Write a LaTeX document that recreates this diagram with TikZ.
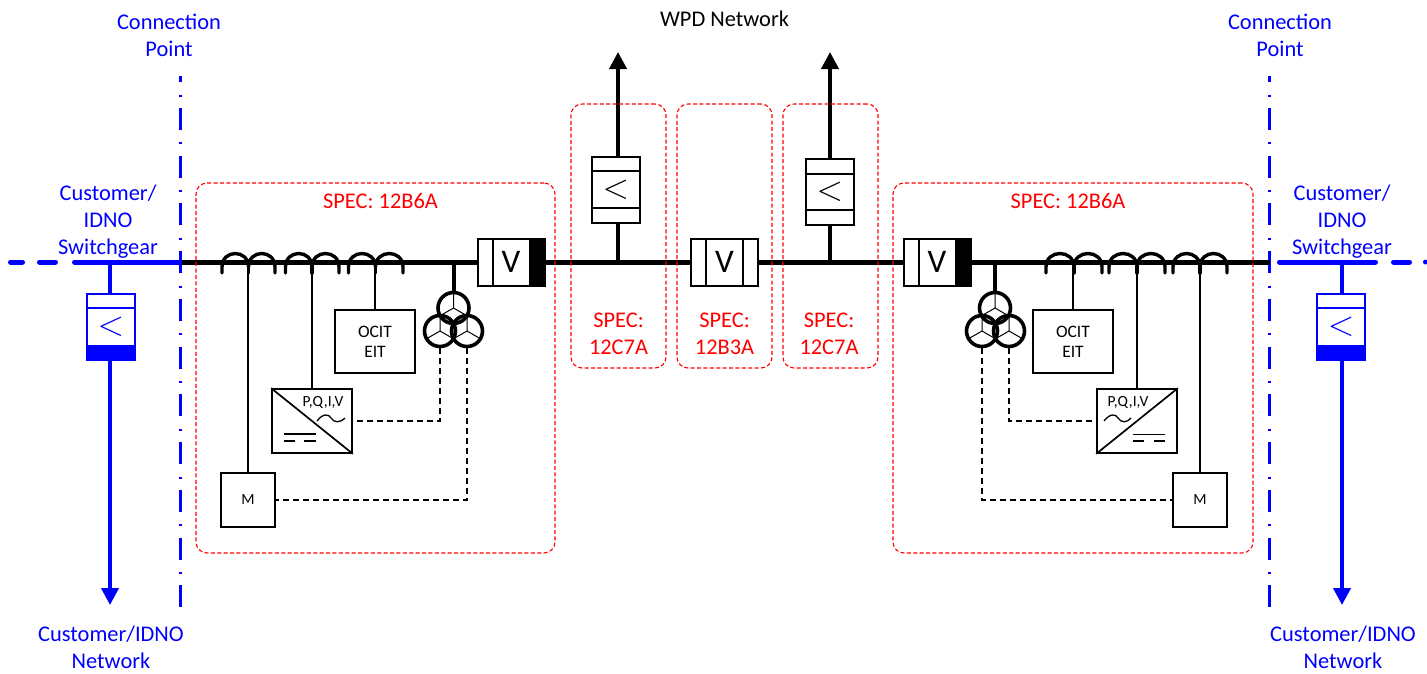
\documentclass[tikz,border=0pt]{standalone}
\usepackage{fontspec}
\setmainfont{Carlito}
\usetikzlibrary{arrows.meta}
\definecolor{cblue}{RGB}{0,0,255}
\definecolor{cred}{RGB}{255,0,0}
\tikzset{
  x=1pt,y=-1pt,
  bus/.style={line width=5pt,black},
  busblue/.style={line width=5pt,cblue},
  feeder/.style={line width=4pt},
  wire/.style={line width=1.7pt},
  ctrl/.style={line width=1.4pt,dash pattern=on 6pt off 4pt},
  coilarc/.style={line width=3.4pt,line cap=round},
  cbox/.style={draw,line width=1.7pt,fill=white,inner sep=0pt},
  specbox/.style={draw=cred,line width=1.1pt,dash pattern=on 4pt off 2.4pt,rounded corners=11pt,inner sep=0pt},
  lbl/.style={inner sep=0pt,align=center,font=\fontsize{22.4}{27}\selectfont},
  bluel/.style={lbl,text=cblue},
  redl/.style={lbl,text=cred},
  ocit/.style={inner sep=0pt,align=center,font=\fontsize{17.5}{20}\selectfont},
  small/.style={inner sep=0pt,font=\fontsize{15.5}{15.5}\selectfont},
  sym/.style={inner sep=0pt,font=\fontsize{24}{24}\selectfont,scale=1.4},
  symv/.style={inner sep=0pt,font=\fontsize{33}{33}\selectfont},
  cp/.style={cblue,line width=3pt,dash pattern=on 22pt off 12.5pt on 2.2pt off 11.05pt},
  tip/.style={-{Triangle[length=17pt,width=17pt]}},
}
\newcommand{\coil}[3]{% left, mid, right
  \draw[coilarc] (#1,273) -- (#1,267) .. controls (#1,249) and (#2,249) .. (#2,267)
     .. controls (#2,249) and (#3,249) .. (#3,267) -- (#3,273);
  \draw[coilarc] (#2,267) -- (#2,273);}
\begin{document}
\begin{tikzpicture}
\useasboundingbox (0,0) rectangle (1427,673);
% coordinates
\coordinate (busL) at (180,262);
\coordinate (busR) at (1270,262);
% connection point lines
\coordinate (cpLt) at (180,60); \coordinate (cpLb) at (180,607);
\coordinate (cpRt) at (1269.5,60); \coordinate (cpRb) at (1269.5,607);
\begin{scope}
\clip (0,76) rectangle (1427,607);
\draw[cp] (cpLt) -- (cpLb);
\draw[cp] (cpRt) -- (cpRb);
\end{scope}
% bus
\draw[bus] (busL) -- (busR);
\coordinate (cuA) at (10.5,262); \coordinate (cuB) at (74.5,262);
\coordinate (cuC) at (1279.5,262); \coordinate (cuD) at (1375.5,262);
\coordinate (cuE) at (1427,262);
\draw[busblue,line cap=round] (cuB) -- (busL);
\draw[busblue,line cap=round,dash pattern=on 12pt off 17pt on 16pt off 30pt] (cuA) -- (cuB);
\draw[busblue,line cap=round] (cuC) -- (cuD);
\begin{scope}
\clip (1380,250) rectangle (1427,274);
\draw[busblue,line cap=round,dash pattern=on 0pt off 18pt on 16pt off 16pt] (cuD) -- (cuE);
\end{scope}
% WPD feeders
\coordinate (tapA) at (618,262); \coordinate (topA) at (618,52);
\coordinate (tapB) at (830,262); \coordinate (topB) at (830,52);
\draw[feeder,tip] (tapA) -- (topA);
\draw[feeder,tip] (tapB) -- (topB);
% customer feeders
\coordinate (tapC) at (110,262); \coordinate (endC) at (110,605);
\coordinate (tapD) at (1342,262); \coordinate (endD) at (1342,605);
\draw[feeder,cblue,tip] (tapC) -- (endC);
\draw[feeder,cblue,tip] (tapD) -- (endD);
% customer breakers
\node[cbox,draw=cblue,minimum width=48pt,minimum height=66pt] (cbC) at (111,327) {};
\draw[wire,cblue] (87,308) -- (135,308);
\fill[cblue] (87,345) rectangle (135,360);
\node[sym,text=cblue] (symC) at (111,327) {$<$};
\node[cbox,draw=cblue,minimum width=48pt,minimum height=66pt] (cbD) at (1341,327) {};
\draw[wire,cblue] (1317,308) -- (1365,308);
\fill[cblue] (1317,345) rectangle (1365,360);
\node[sym,text=cblue] (symD) at (1341,327) {$<$};
% vertical breakers
\node[cbox,minimum width=48pt,minimum height=66pt] (cbA) at (616,190) {};
\draw[wire] (592,171) -- (640,171) (592,208) -- (640,208);
\node[sym] (symA) at (616,190) {$<$};
\node[cbox,minimum width=48pt,minimum height=66pt] (cbB) at (830,192) {};
\draw[wire] (806,174) -- (854,174) (806,210) -- (854,210);
\node[sym] (symB) at (830,192) {$<$};
% horizontal breakers
\node[cbox,minimum width=67pt,minimum height=47pt] (vL) at (511.5,262.5) {};
\draw[wire] (493,239) -- (493,286);
\fill (529,238) rectangle (545,287);
\node[symv] (symVL) at (511,262) {V};
\node[cbox,minimum width=67pt,minimum height=47pt] (vM) at (724.5,262.5) {};
\draw[wire] (706,239) -- (706,286) (743,239) -- (743,286);
\node[symv] (symVM) at (724.5,262) {V};
\node[cbox,minimum width=67pt,minimum height=47pt] (vR) at (937.5,262.5) {};
\draw[wire] (919,239) -- (919,286);
\fill (955,238) rectangle (971,287);
\node[symv] (symVR) at (937,262) {V};
% coils left
\coil{222}{248.5}{275}
\coil{285.5}{312}{339}
\coil{348.5}{375.5}{403}
% coils right
\coil{1046}{1074}{1102}
\coil{1109}{1137}{1165}
\coil{1173}{1200}{1227}
% boxes left
\node[cbox,minimum width=54pt,minimum height=54pt] (mL) at (248,500) {};
\node[cbox,minimum width=80pt,minimum height=63pt] (ocL) at (375,341.5) {};
\node[cbox,minimum width=80pt,minimum height=64pt] (inL) at (312,421) {};
\coordinate (cmL) at (248,266); \coordinate (ciL) at (312,266); \coordinate (coL) at (375,266);
\draw[wire] (cmL) -- (mL.north);
\draw[wire] (ciL) -- (inL.north);
\draw[wire] (coL) -- (ocL.north);
\draw[wire] (inL.north west) -- (inL.south east);
\node[small] (tML) at (mL) {M};
\node[ocit] (tOL) at (375,342) {OCIT\\EIT};
\node[small] (tPL) at (323,402) {P,Q,I,V};
\draw[line width=1.3pt] (317,421) .. controls (323,413) and (329,414) .. (331,418) .. controls (334,423) and (340,423) .. (345,418);
\draw[wire] (284,434) -- (316,434) (284,441) -- (295,441) (304,441) -- (316,441);
% boxes right
\node[cbox,minimum width=54pt,minimum height=54pt] (mR) at (1200,500) {};
\node[cbox,minimum width=80pt,minimum height=63pt] (ocR) at (1073,341.5) {};
\node[cbox,minimum width=80pt,minimum height=64pt] (inR) at (1137,421) {};
\coordinate (cmR) at (1200,266); \coordinate (ciR) at (1137,266); \coordinate (coR) at (1073,266);
\draw[wire] (cmR) -- (mR.north);
\draw[wire] (ciR) -- (inR.north);
\draw[wire] (coR) -- (ocR.north);
\draw[wire] (inR.south west) -- (inR.north east);
\node[small] (tMR) at (mR) {M};
\node[ocit] (tOR) at (1073,342) {OCIT\\EIT};
\node[small] (tPR) at (1128,402) {P,Q,I,V};
\draw[line width=1.3pt] (1104,421) .. controls (1110,413) and (1116,414) .. (1118,418) .. controls (1121,423) and (1127,423) .. (1131,418);
\draw[wire] (1133,434.5) -- (1165,434.5) (1133,441) -- (1144,441) (1154,441) -- (1165,441);
% transformers
\foreach \n/\cx/\cy in {tL1/453.5/308, tL2/440/331, tL3/467/331, tR1/995/308, tR2/982/331, tR3/1009/331}{
  \node[circle,draw,line width=3.6pt,minimum size=31pt,inner sep=0pt] (\n) at (\cx,\cy) {};
  \draw[line width=1pt] (\n.center) -- (\n.north) (\n.center) -- (\n.210) (\n.center) -- (\n.330);
}
\coordinate (stL) at (453.5,262); \coordinate (stR) at (995,262);
\draw[feeder] (stL) -- (tL1.north);
\draw[feeder] (stR) -- (tR1.north);
% dashed signals
\draw[ctrl] (tL2.south) -- (tL2.south |- inL.east) -- (inL.east);
\draw[ctrl] (tL3.south) -- (tL3.south |- mL.east) -- (mL.east);
\draw[ctrl] (tR3.south) -- (tR3.south |- inR.west) -- (inR.west);
\draw[ctrl] (tR2.south) -- (tR2.south |- mR.west) -- (mR.west);
% spec boxes
\node[specbox,minimum width=359pt,minimum height=370pt] (s1) at (375.5,368) {};
\node[specbox,minimum width=360pt,minimum height=370pt] (s2) at (1073,368) {};
\node[specbox,minimum width=95pt,minimum height=264pt] (s3) at (618.5,236) {};
\node[specbox,minimum width=95pt,minimum height=264pt] (s4) at (724.5,236) {};
\node[specbox,minimum width=95pt,minimum height=264pt] (s5) at (830.5,236) {};
% labels
\node[redl] (l1) at (380.5,201) {SPEC: 12B6A};
\node[redl] (l2) at (1068,201) {SPEC: 12B6A};
\node[redl] (l3) at (618.5,334) {SPEC:\\12C7A};
\node[redl] (l4) at (724.5,334) {SPEC:\\12B3A};
\node[redl] (l5) at (829,334) {SPEC:\\12C7A};
\node[lbl] (wpd) at (724.5,19) {WPD Network};
\node[bluel] (cp1) at (169,35) {Connection\\Point};
\node[bluel] (cp2) at (1280,35) {Connection\\Point};
\node[bluel] (sw1) at (108,221.5) {Customer/\\IDNO\\Switchgear};
\node[bluel] (sw2) at (1342,221.5) {Customer/\\IDNO\\Switchgear};
\node[bluel] (n1) at (111,647) {Customer/IDNO\\Network};
\node[bluel] (n2) at (1343,647) {Customer/IDNO\\Network};
\end{tikzpicture}
\end{document}
